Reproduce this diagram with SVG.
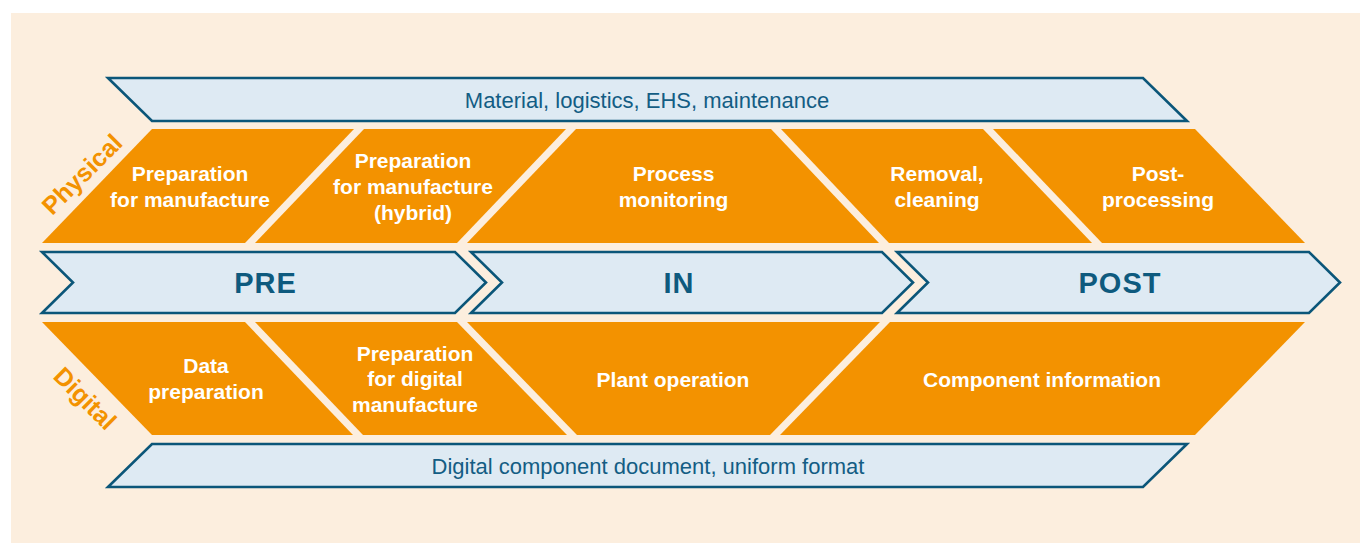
<svg xmlns="http://www.w3.org/2000/svg" width="1360" height="543" viewBox="0 0 1360 543">
  <style>
    .band { fill: #DEEAF3; stroke: #0B5679; stroke-width: 2.6; stroke-linejoin: miter; }
    .step { fill: #F39200; }
    .band-label { font-family: "Liberation Sans", Arial, sans-serif; font-size: 22px; fill: #135D84; text-anchor: middle; }
    .phase { font-family: "Liberation Sans", Arial, sans-serif; font-size: 29px; font-weight: bold; letter-spacing: 1px; fill: #0E5A7E; text-anchor: middle; }
    .step-label { font-family: "Liberation Sans", Arial, sans-serif; font-size: 21px; font-weight: bold; fill: #FFFFFF; text-anchor: middle; }
    .side { font-family: "Liberation Sans", Arial, sans-serif; font-size: 25px; font-weight: bold; fill: #F39200; text-anchor: middle; }
  </style>

  <!-- page background -->
  <rect x="0" y="0" width="1360" height="543" fill="#FFFFFF"/>
  <rect x="11" y="13" width="1349" height="530" fill="#FCEEDE"/>

  <!-- upper band -->
  <g id="band-physical-support">
    <path class="band" d="M108,78 L1143,78 L1187,121 L152,121 Z"/>
    <text class="band-label" x="647" y="107.5">Material, logistics, EHS, maintenance</text>
  </g>

  <!-- physical process steps -->
  <g id="phys-prep">
    <path class="step" d="M152,129 L354,129 L245,243 L42,243 Z"/>
    <text class="step-label" x="190" y="181">Preparation</text>
    <text class="step-label" x="190" y="207">for manufacture</text>
  </g>
  <g id="phys-prep-hybrid">
    <path class="step" d="M364,129 L566,129 L457,243 L255,243 Z"/>
    <text class="step-label" x="413" y="168">Preparation</text>
    <text class="step-label" x="413" y="194">for manufacture</text>
    <text class="step-label" x="413" y="220">(hybrid)</text>
  </g>
  <g id="phys-monitoring">
    <path class="step" d="M576,129 L771,129 L879,243 L467,243 Z"/>
    <text class="step-label" x="673.5" y="181">Process</text>
    <text class="step-label" x="673.5" y="207">monitoring</text>
  </g>
  <g id="phys-removal">
    <path class="step" d="M781,129 L983,129 L1092,243 L889,243 Z"/>
    <text class="step-label" x="937" y="181">Removal,</text>
    <text class="step-label" x="937" y="207">cleaning</text>
  </g>
  <g id="phys-post">
    <path class="step" d="M993,129 L1195,129 L1305,243 L1102,243 Z"/>
    <text class="step-label" x="1158" y="181">Post-</text>
    <text class="step-label" x="1158" y="207">processing</text>
  </g>

  <!-- phase chevrons -->
  <g id="phase-pre">
    <path class="band" d="M42,252 L455,252 L486,282.5 L455,313 L42,313 L73,282.5 Z"/>
    <text class="phase" x="265.5" y="293">PRE</text>
  </g>
  <g id="phase-in">
    <path class="band" d="M471,252 L882,252 L913,282.5 L882,313 L471,313 L502,282.5 Z"/>
    <text class="phase" x="679" y="293">IN</text>
  </g>
  <g id="phase-post">
    <path class="band" d="M897,252 L1309,252 L1340,282.5 L1309,313 L897,313 L928,282.5 Z"/>
    <text class="phase" x="1120" y="293">POST</text>
  </g>

  <!-- digital process steps -->
  <g id="dig-data">
    <path class="step" d="M42,322 L245,322 L353,435 L152,435 Z"/>
    <text class="step-label" x="206" y="373">Data</text>
    <text class="step-label" x="206" y="398.5">preparation</text>
  </g>
  <g id="dig-prep">
    <path class="step" d="M255,322 L457,322 L567,435 L363,435 Z"/>
    <text class="step-label" x="415" y="360.5">Preparation</text>
    <text class="step-label" x="415" y="386">for digital</text>
    <text class="step-label" x="415" y="411.5">manufacture</text>
  </g>
  <g id="dig-plant">
    <path class="step" d="M467,322 L880,322 L770,435 L577,435 Z"/>
    <text class="step-label" x="673" y="387">Plant operation</text>
  </g>
  <g id="dig-component">
    <path class="step" d="M890,322 L1305,322 L1195,435 L780,435 Z"/>
    <text class="step-label" x="1042" y="387">Component information</text>
  </g>

  <!-- lower band -->
  <g id="band-digital-support">
    <path class="band" d="M152,444 L1187,444 L1143,487 L108,487 Z"/>
    <text class="band-label" x="648" y="473.5">Digital component document, uniform format</text>
  </g>

  <!-- row captions along the slanted edges -->
  <g id="caption-physical">
    <text class="side" transform="translate(88,180.5) rotate(-45)">Physical</text>
  </g>
  <g id="caption-digital">
    <text class="side" transform="translate(79,404.5) rotate(45)">Digital</text>
  </g>
</svg>
